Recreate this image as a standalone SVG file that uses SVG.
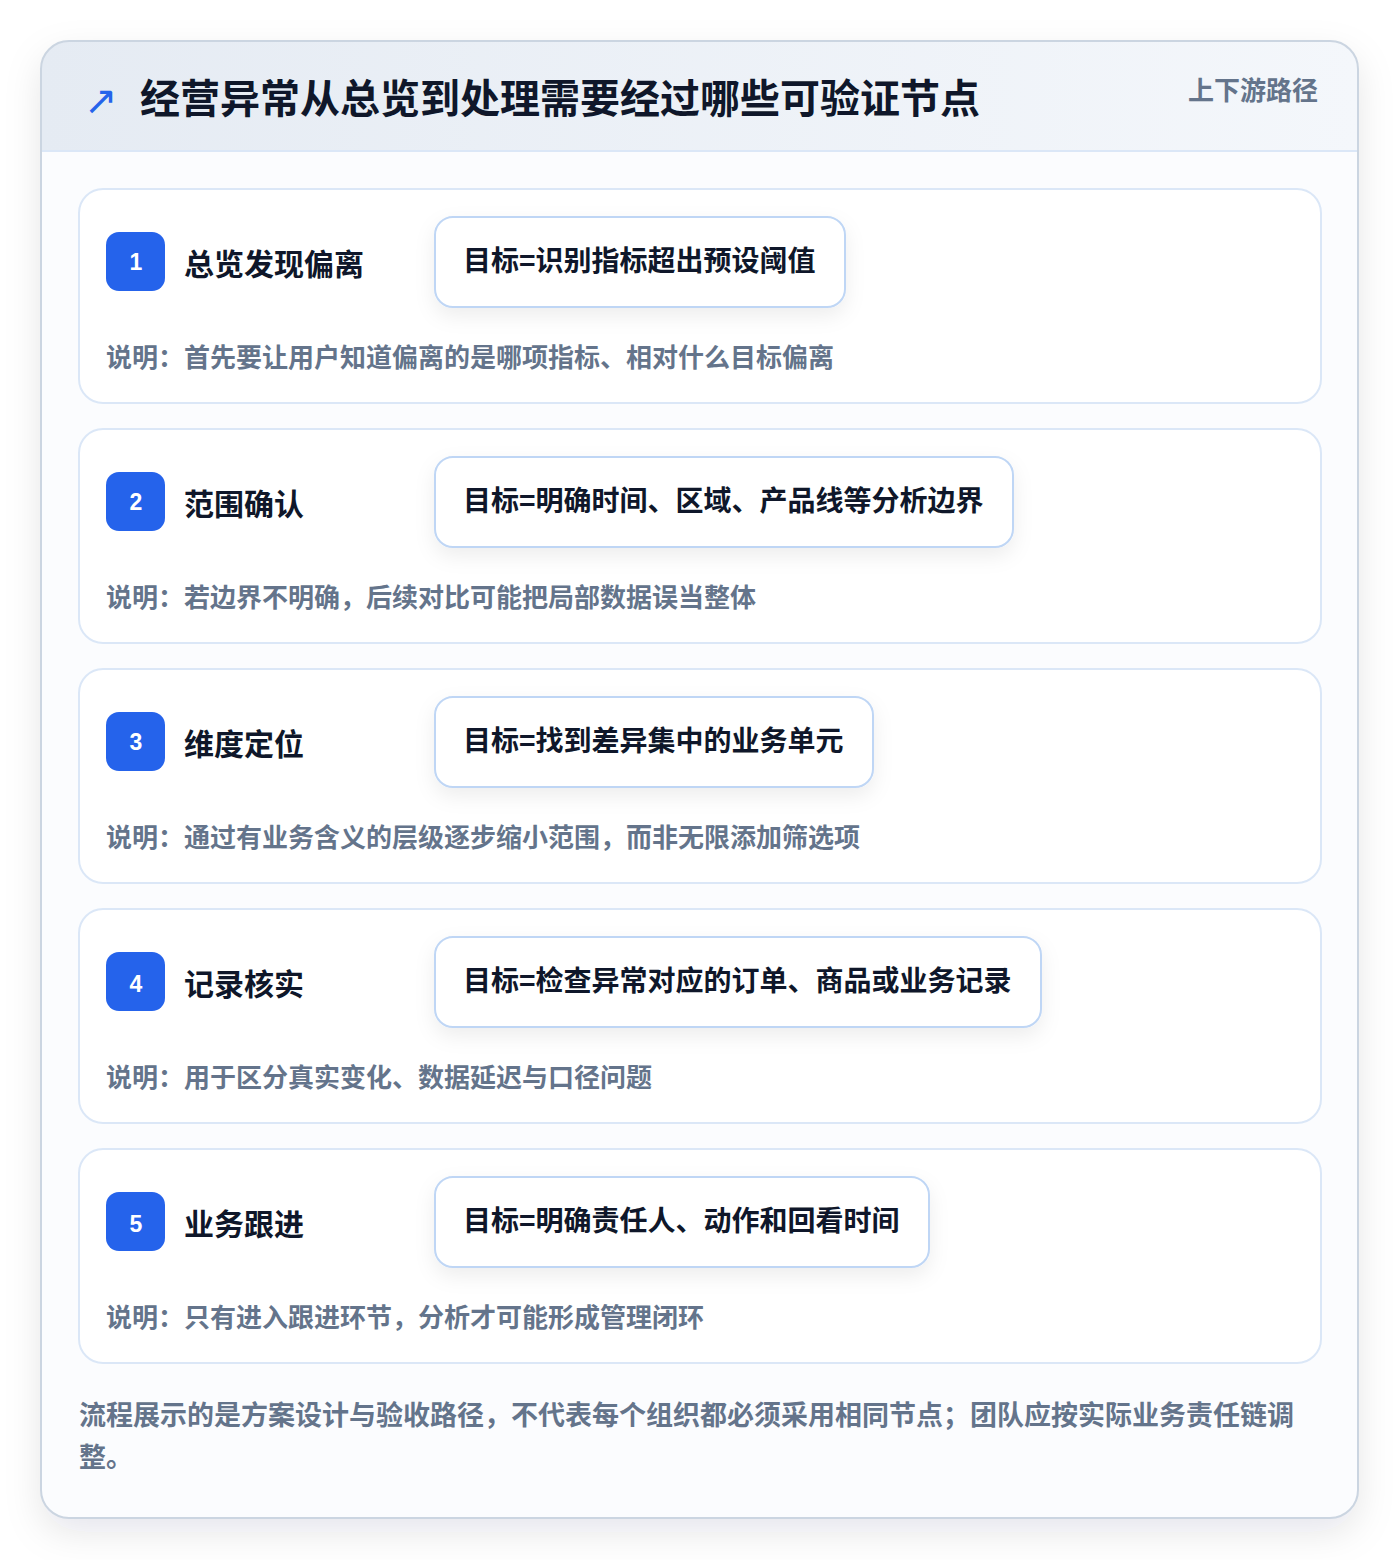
<svg xmlns="http://www.w3.org/2000/svg" width="1400" height="1560" viewBox="0 0 1400 1560">
<defs>
<linearGradient id="hdr" x1="0" y1="0" x2="1" y2="0">
<stop offset="0" stop-color="#e5ebf3"/>
<stop offset="1" stop-color="#f4f7fb"/>
</linearGradient>
<filter id="outerShadow" x="-10%" y="-10%" width="120%" height="120%">
<feDropShadow dx="0" dy="14" stdDeviation="18" flood-color="#0f172a" flood-opacity="0.10"/>
</filter>
<filter id="boxShadow" x="-20%" y="-40%" width="140%" height="180%">
<feDropShadow dx="0" dy="8" stdDeviation="10" flood-color="#0f172a" flood-opacity="0.07"/>
</filter>
<clipPath id="outerClip"><rect x="41" y="41" width="1317" height="1477" rx="28"/></clipPath>
<style>
text{font-family:"Noto Sans CJK SC","Noto Sans",sans-serif;font-weight:700}
.card{fill:#ffffff;stroke:#dbe7f7;stroke-width:2}
.badge{fill:#2563eb}
.num{fill:#ffffff;font-size:23px;text-anchor:middle;font-family:"Liberation Sans","Noto Sans",sans-serif}
.stitle{fill:#0f172a;font-size:30px}
.goal{fill:#ffffff;stroke:#bfd6f5;stroke-width:2}
.goaltxt{fill:#0f172a;font-size:28px}
.desc{fill:#64748b;font-size:26px}
.foot{fill:#64748b;font-size:27px}
</style>
</defs>
<rect x="0" y="0" width="1400" height="1560" fill="#ffffff"/>
<g id="frame">
<rect x="41" y="41" width="1317" height="1477" rx="28" fill="#fbfcfe" filter="url(#outerShadow)"/>
<g clip-path="url(#outerClip)">
<rect x="41" y="41" width="1317" height="110" fill="url(#hdr)"/>
<line x1="41" y1="151" x2="1358" y2="151" stroke="#dbe7f7" stroke-width="2"/>
</g>
<rect x="41" y="41" width="1317" height="1477" rx="28" fill="none" stroke="#cbd5e1" stroke-width="2"/>
</g>
<g id="header">
<text x="84" y="114" fill="#2563eb" style="font-family:'DejaVu Sans',sans-serif;font-size:40px;font-weight:400">↗</text>
<text x="140" y="113" fill="#0f172a" font-size="40">经营异常从总览到处理需要经过哪些可验证节点</text>
<text x="1318" y="100" fill="#64748b" font-size="26" text-anchor="end">上下游路径</text>
</g>
<g id="step1">
<rect class="card" x="79" y="189" width="1242" height="214" rx="24"/>
<rect class="badge" x="106" y="232" width="59" height="59" rx="13"/>
<text class="num" x="136" y="270">1</text>
<text class="stitle" x="184" y="275">总览发现偏离</text>
<rect class="goal" x="435" y="217" width="410" height="90" rx="18" filter="url(#boxShadow)"/>
<text class="goaltxt" x="463" y="271">目标=识别指标超出预设阈值</text>
<text class="desc" x="106" y="367">说明：首先要让用户知道偏离的是哪项指标、相对什么目标偏离</text>
</g>
<g id="step2">
<rect class="card" x="79" y="429" width="1242" height="214" rx="24"/>
<rect class="badge" x="106" y="472" width="59" height="59" rx="13"/>
<text class="num" x="136" y="510">2</text>
<text class="stitle" x="184" y="515">范围确认</text>
<rect class="goal" x="435" y="457" width="578" height="90" rx="18" filter="url(#boxShadow)"/>
<text class="goaltxt" x="463" y="511">目标=明确时间、区域、产品线等分析边界</text>
<text class="desc" x="106" y="607">说明：若边界不明确，后续对比可能把局部数据误当整体</text>
</g>
<g id="step3">
<rect class="card" x="79" y="669" width="1242" height="214" rx="24"/>
<rect class="badge" x="106" y="712" width="59" height="59" rx="13"/>
<text class="num" x="136" y="750">3</text>
<text class="stitle" x="184" y="755">维度定位</text>
<rect class="goal" x="435" y="697" width="438" height="90" rx="18" filter="url(#boxShadow)"/>
<text class="goaltxt" x="463" y="751">目标=找到差异集中的业务单元</text>
<text class="desc" x="106" y="847">说明：通过有业务含义的层级逐步缩小范围，而非无限添加筛选项</text>
</g>
<g id="step4">
<rect class="card" x="79" y="909" width="1242" height="214" rx="24"/>
<rect class="badge" x="106" y="952" width="59" height="59" rx="13"/>
<text class="num" x="136" y="992">4</text>
<text class="stitle" x="184" y="995">记录核实</text>
<rect class="goal" x="435" y="937" width="606" height="90" rx="18" filter="url(#boxShadow)"/>
<text class="goaltxt" x="463" y="991">目标=检查异常对应的订单、商品或业务记录</text>
<text class="desc" x="106" y="1087">说明：用于区分真实变化、数据延迟与口径问题</text>
</g>
<g id="step5">
<rect class="card" x="79" y="1149" width="1242" height="214" rx="24"/>
<rect class="badge" x="106" y="1192" width="59" height="59" rx="13"/>
<text class="num" x="136" y="1232">5</text>
<text class="stitle" x="184" y="1235">业务跟进</text>
<rect class="goal" x="435" y="1177" width="494" height="90" rx="18" filter="url(#boxShadow)"/>
<text class="goaltxt" x="463" y="1231">目标=明确责任人、动作和回看时间</text>
<text class="desc" x="106" y="1327">说明：只有进入跟进环节，分析才可能形成管理闭环</text>
</g>
<g id="connectors"></g>
<g id="footer">
<text class="foot" x="79" y="1425">流程展示的是方案设计与验收路径，不代表每个组织都必须采用相同节点；团队应按实际业务责任链调</text>
<text class="foot" x="79" y="1467">整。</text>
</g>
</svg>
